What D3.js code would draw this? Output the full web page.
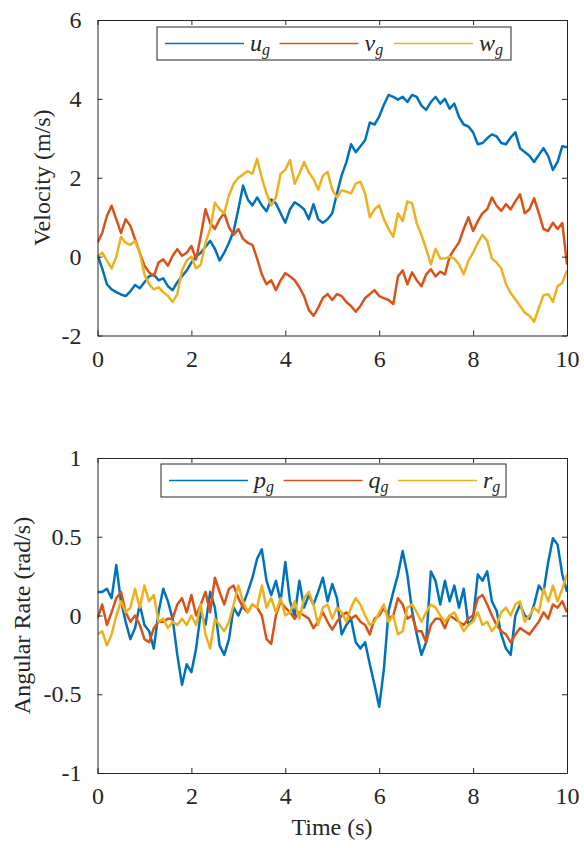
<!DOCTYPE html>
<html>
<head>
<meta charset="utf-8">
<script src="https://cdn.jsdelivr.net/npm/d3@7"></script>
<style>
    body { margin: 0; background: #fff; }
    text { font-family: "Liberation Serif", "DejaVu Serif", serif; fill: #262626; }
</style>
</head>
<body>
<div id="chart"></div>
<script>
var time = d3.range(0, 101).map(function(i) { return i / 10; });

var ug = [0.05, -0.3, -0.7, -0.83, -0.9, -0.96, -1.0, -0.88, -0.72, -0.8,
    -0.65, -0.5, -0.45, -0.6, -0.55, -0.75, -0.85, -0.65, -0.5, -0.35,
    -0.15, 0.0, 0.1, 0.25, 0.4, 0.2, -0.1, 0.1, 0.35, 0.65,
    1.2, 1.8, 1.45, 1.3, 1.5, 1.3, 1.15, 1.45, 1.35, 1.1,
    0.86, 1.2, 1.38, 1.3, 1.2, 0.95, 1.33, 0.95, 0.86, 0.95,
    1.1, 1.6, 2.06, 2.39, 2.85, 2.65, 2.8, 2.95, 3.4, 3.35,
    3.55, 3.85, 4.1, 4.05, 3.98, 4.05, 3.92, 4.1, 4.05, 3.83,
    3.72, 3.92, 4.05, 3.88, 4.0, 3.75, 3.88, 3.54, 3.35, 3.3,
    3.15, 2.85, 2.88, 3.0, 3.1, 3.05, 2.88, 2.85, 3.02, 3.15,
    2.75, 2.65, 2.56, 2.4, 2.58, 2.75, 2.55, 2.2, 2.4, 2.8,
    2.77];

var vg = [0.35, 0.6, 1.03, 1.29, 0.95, 0.6, 0.95, 0.78, 0.44, 0.1,
    -0.23, -0.4, -0.49, -0.15, -0.07, -0.23, 0.02, 0.19, 0.02, 0.1,
    0.27, -0.07, 0.53, 1.2, 0.85, 0.7, 0.95, 1.1, 0.75, 0.55,
    0.7, 0.45, 0.35, 0.3, -0.05, -0.45, -0.7, -0.6, -0.85, -0.6,
    -0.42, -0.5, -0.6, -0.78, -1.0, -1.35, -1.5, -1.3, -1.05, -0.95,
    -1.1, -0.95, -1.0, -1.15, -1.25, -1.4, -1.25, -1.05, -0.95, -0.85,
    -1.0, -1.05, -1.1, -1.2, -0.5, -0.35, -0.7, -0.4, -0.6, -0.75,
    -0.45, -0.32, -0.5, -0.38, -0.45, 0.0, 0.19, 0.36, 0.7, 1.0,
    0.65, 0.9, 1.1, 1.2, 1.5, 1.29, 1.16, 1.33, 1.2, 1.4,
    1.58, 1.1, 1.2, 1.48, 1.1, 0.7, 0.65, 0.86, 0.7, 0.85,
    -0.2];

var wg = [0.0, 0.1, -0.1, -0.3, 0.0, 0.5, 0.35, 0.3, 0.4, 0.1,
    -0.45, -0.7, -0.83, -0.78, -0.9, -1.0, -1.15, -0.95, -0.35, -0.1,
    0.0, -0.3, -0.2, 0.35, 0.7, 1.37, 1.2, 1.1, 1.55, 1.85,
    2.0, 2.08, 2.17, 2.1, 2.48, 2.0, 1.6, 1.3, 1.5, 2.1,
    2.2, 2.45, 1.85, 2.1, 2.4, 2.14, 1.97, 1.7, 2.05, 2.15,
    1.7, 1.5, 1.68, 1.65, 1.6, 1.85, 1.9, 1.6, 1.0, 1.2,
    1.3, 0.95, 0.7, 0.5, 1.1, 0.9, 1.4, 1.35, 0.85, 0.55,
    0.2, -0.2, 0.2, -0.05, -0.05, 0.0, -0.05, -0.2, -0.45, -0.1,
    0.1, 0.35, 0.55, 0.4, -0.05, -0.15, -0.3, -0.7, -0.92, -1.08,
    -1.25, -1.42, -1.5, -1.65, -1.3, -0.98, -0.95, -1.15, -0.75, -0.66,
    -0.35];

var pg = [0.15, 0.15, 0.17, 0.11, 0.32, 0.09, -0.04, -0.15, -0.08, 0.07,
    -0.06, -0.1, -0.21, 0.02, 0.17, 0.09, -0.02, -0.25, -0.44, -0.31,
    -0.36, -0.21, 0.02, -0.06, 0.15, 0.05, -0.19, -0.25, -0.15, 0.05,
    0.0, 0.07, 0.15, 0.24, 0.36, 0.42, 0.22, 0.13, 0.22, 0.09,
    0.34, 0.09, 0.0, 0.22, 0.05, 0.13, 0.07, 0.15, 0.24, 0.09,
    0.2, 0.11, -0.12, -0.06, -0.02, -0.17, -0.21, -0.17, -0.31, -0.44,
    -0.58, -0.34, 0.03, 0.15, 0.26, 0.41, 0.26, 0.03, -0.12, -0.25,
    -0.17, 0.28, 0.22, 0.07, 0.22, 0.09, 0.19, 0.05, 0.17, -0.06,
    -0.02, 0.26, 0.22, 0.28, 0.09, 0.03, -0.12, -0.21, -0.25, 0.0,
    0.07, 0.0, -0.02, 0.07, 0.19, 0.15, 0.34, 0.49, 0.45, 0.26,
    0.15];

var qg = [-0.02, 0.07, -0.06, 0.02, 0.11, 0.15, 0.02, -0.04, 0.0, -0.06,
    -0.15, -0.17, -0.08, -0.04, -0.04, -0.02, -0.02, 0.07, 0.11, 0.02,
    0.13, 0.0, 0.07, 0.15, 0.02, 0.24, 0.15, 0.07, 0.17, 0.19,
    0.11, 0.05, 0.02, 0.07, 0.05, 0.0, -0.15, -0.18, 0.0, 0.09,
    0.05, 0.02, -0.02, 0.02, 0.0, -0.02, -0.08, -0.04, 0.02, -0.04,
    -0.09, -0.04, 0.0, 0.02, -0.02, 0.0, -0.04, -0.06, -0.12, -0.02,
    0.0, 0.05, -0.02, 0.0, 0.11, 0.07, -0.02, 0.0, -0.1, -0.1,
    -0.17, -0.06, -0.02, -0.02, -0.08, 0.0, -0.02, -0.04, -0.06, -0.02,
    0.0, 0.11, 0.13, 0.07, 0.0, -0.06, -0.1, -0.12, -0.17, -0.12,
    -0.08, -0.1, -0.12, -0.08, -0.04, 0.02, -0.02, 0.07, 0.05, 0.09,
    0.02];

var rg = [-0.12, -0.1, -0.19, -0.12, 0.0, 0.09, 0.02, 0.05, 0.17, 0.05,
    0.19, 0.09, 0.13, -0.04, -0.02, -0.08, -0.04, -0.06, -0.02, -0.06,
    0.0, -0.06, 0.07, -0.12, -0.21, -0.02, -0.06, -0.1, -0.04, 0.07,
    0.19, 0.09, 0.02, 0.07, 0.05, 0.19, 0.05, 0.11, 0.02, 0.11,
    0.0, 0.02, 0.09, -0.02, 0.11, 0.15, 0.07, -0.06, 0.05, 0.07,
    -0.02, 0.05, 0.02, -0.04, 0.05, 0.11, 0.07, 0.0, -0.06, -0.04,
    0.02, 0.07, -0.04, 0.0, -0.12, -0.1, 0.05, 0.07, 0.02, -0.04,
    0.02, 0.07, 0.05, 0.0, -0.04, 0.0, 0.02, -0.04, -0.1, -0.06,
    -0.04, 0.02, -0.06, -0.04, -0.1, -0.06, 0.02, 0.05, 0.0, 0.07,
    0.09, -0.04, 0.0, 0.05, 0.02, 0.17, 0.09, 0.19, 0.09, 0.17,
    0.26];

var timeTicks = [0, 2, 4, 6, 8, 10];
var velTicks = [-2, 0, 2, 4, 6];
var velTickLabels = ['-2', '0', '2', '4', '6'];
var rateTicks = [-1, -0.5, 0, 0.5, 1];
var rateTickLabels = ['-1', '-0.5', '0', '0.5', '1'];

var COLORS = ['#0072BD', '#D95319', '#EDB120'];
var AXIS_COLOR = '#262626';
var FONT = '"Liberation Serif", "DejaVu Serif", serif';
var FONT_SIZE = 24;
var TICK_LEN = 5;

var svg = d3.select('#chart')
    .append('svg')
    .attr('width', 584)
    .attr('height', 848)
    .style('font-family', FONT);

function drawPanel(cfg) {
    var x = d3.scaleLinear().domain([0, 10]).range([97.5, 567]);
    var y = d3.scaleLinear().domain(cfg.domain).range([cfg.bottom, cfg.top]);

    var g = svg.append('g');

    // clip so the traces stay in the box
    g.append('clipPath').attr('id', cfg.id + '-clip')
        .append('rect')
        .attr('x', x(0)).attr('y', cfg.top)
        .attr('width', x(10) - x(0)).attr('height', cfg.bottom - cfg.top);

    var line = d3.line()
        .x(function(d) { return x(d[0]); })
        .y(function(d) { return y(d[1]); });

    cfg.series.forEach(function(s, i) {
        g.append('path')
            .datum(time.map(function(t, k) { return [t, s[k]]; }))
            .attr('clip-path', 'url(#' + cfg.id + '-clip)')
            .attr('fill', 'none')
            .attr('stroke', COLORS[i])
            .attr('stroke-width', 2.5)
            .attr('stroke-linejoin', 'round')
            .attr('d', line);
    });

    // axes, ticks pointing inward like matlab
    var bottomAx = d3.axisBottom(x).tickValues(timeTicks).tickSizeInner(-TICK_LEN).tickSizeOuter(0).tickPadding(14)
        .tickFormat(d3.format('d'));
    var topAx = d3.axisTop(x).tickValues(timeTicks).tickSizeInner(-TICK_LEN).tickSizeOuter(0).tickFormat('');
    var leftAx = d3.axisLeft(y).tickValues(cfg.ticks).tickSizeInner(-TICK_LEN).tickSizeOuter(0).tickPadding(16)
        .tickFormat(function(d, i) { return cfg.tickLabels[i]; });
    var rightAx = d3.axisRight(y).tickValues(cfg.ticks).tickSizeInner(-TICK_LEN).tickSizeOuter(0).tickFormat('');

    [
        [bottomAx, 'translate(0,' + cfg.bottom + ')'],
        [topAx, 'translate(0,' + cfg.top + ')'],
        [leftAx, 'translate(' + x(0) + ',0)'],
        [rightAx, 'translate(' + x(10) + ',0)']
    ].forEach(function(a) {
        var ax = g.append('g').attr('transform', a[1]).call(a[0]);
        ax.attr('font-family', FONT).attr('font-size', FONT_SIZE);
        ax.select('.domain').attr('stroke', AXIS_COLOR);
        ax.selectAll('.tick line').attr('stroke', AXIS_COLOR);
        ax.selectAll('.tick text').attr('fill', AXIS_COLOR);
    });

    // y label
    g.append('text')
        .attr('transform', 'translate(' + cfg.labelX + ',' + ((cfg.top + cfg.bottom) / 2) + ') rotate(-90)')
        .attr('text-anchor', 'middle')
        .attr('font-size', FONT_SIZE)
        .text(cfg.label);

    // legend
    var lg = cfg.legend;
    g.append('rect')
        .attr('x', lg.x).attr('y', lg.y)
        .attr('width', lg.w).attr('height', lg.h)
        .attr('fill', '#fff')
        .attr('stroke', AXIS_COLOR)
        .attr('stroke-width', 1);

    lg.names.forEach(function(n, i) {
        var x0 = lg.x + 8 + i * 114.5;
        var cy = lg.y + lg.h / 2;
        g.append('line')
            .attr('x1', x0).attr('x2', x0 + 79)
            .attr('y1', cy).attr('y2', cy)
            .attr('stroke', COLORS[i])
            .attr('stroke-width', 1.5);
        var t = g.append('text')
            .attr('x', x0 + 85)
            .attr('y', cy + 7)
            .attr('font-size', FONT_SIZE);
        t.append('tspan').attr('font-style', 'italic').text(n);
        t.append('tspan').attr('font-style', 'italic').attr('dy', 4).attr('font-size', 16).text('g');
    });

    return x;
}

drawPanel({
    id: 'vel',
    top: 20, bottom: 335.5,
    domain: [-2, 6],
    ticks: velTicks, tickLabels: velTickLabels,
    series: [ug, vg, wg],
    label: 'Velocity (m/s)',
    labelX: 50,
    legend: { x: 157, y: 27, w: 354, h: 33, names: ['u', 'v', 'w'] }
});

drawPanel({
    id: 'rate',
    top: 458, bottom: 773,
    domain: [-1, 1],
    ticks: rateTicks, tickLabels: rateTickLabels,
    series: [pg, qg, rg],
    label: 'Angular Rate (rad/s)',
    labelX: 30,
    legend: { x: 161, y: 464, w: 345, h: 33, names: ['p', 'q', 'r'] }
});

svg.append('text')
    .attr('x', 332).attr('y', 835)
    .attr('text-anchor', 'middle')
    .attr('font-size', FONT_SIZE)
    .text('Time (s)');
</script>
</body>
</html>
